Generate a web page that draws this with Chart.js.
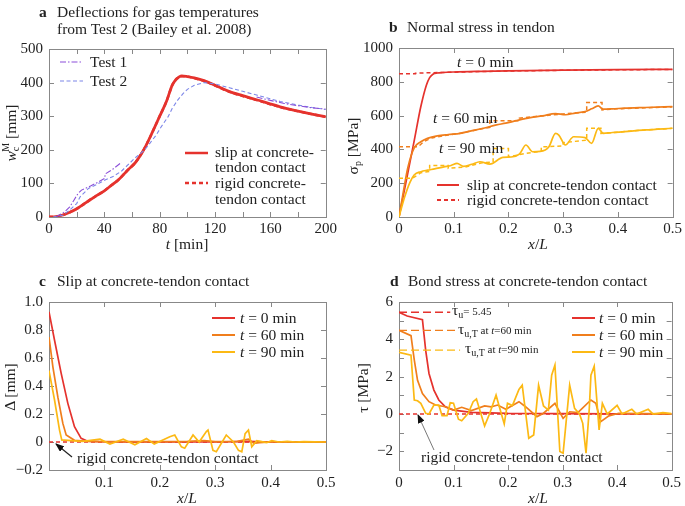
<!DOCTYPE html>
<html>
<head>
<meta charset="utf-8">
<script src="https://cdn.jsdelivr.net/npm/chart.js@4.4.1/dist/chart.umd.min.js"></script>
<style>
  html, body { margin: 0; padding: 0; background: #fff; overflow: hidden; }
  #wrap { position: relative; width: 685px; height: 506px; }
  canvas { position: absolute; }
  svg { position: absolute; left: 0; top: 0; }
  svg text { font-family: 'Liberation Serif', 'Times New Roman', serif; font-size: 15.5px; fill: #222; }
</style>
</head>
<body>
<div id="wrap">
  <canvas id="chartA" width="340" height="250" style="left:0;top:0"></canvas>
  <canvas id="chartB" width="345" height="250" style="left:340px;top:0"></canvas>
  <canvas id="chartC" width="340" height="256" style="left:0;top:250px"></canvas>
  <canvas id="chartD" width="345" height="256" style="left:340px;top:250px"></canvas>

  <svg width="685" height="506">
    <defs>
      <marker id="head" markerWidth="9" markerHeight="7" refX="8" refY="3.5" orient="auto" markerUnits="userSpaceOnUse">
        <path d="M0,0 L9,3.5 L0,7 z" fill="#111"/>
      </marker>
    </defs>

    <!-- panel a -->
    <text x="39" y="17" font-weight="bold">a</text>
    <text x="57" y="17">Deflections for gas temperatures</text>
    <text x="57" y="34">from Test 2 (Bailey et al. 2008)</text>
    <line x1="60" y1="62" x2="83" y2="62" stroke="#8b4fd9" stroke-width="1.2" stroke-dasharray="6,2,1.5,2"/>
    <text x="90" y="67">Test 1</text>
    <line x1="60" y1="81" x2="83" y2="81" stroke="#7c86e8" stroke-width="1.2" stroke-dasharray="4,2.5"/>
    <text x="90" y="86">Test 2</text>
    <line x1="185" y1="153" x2="208" y2="153" stroke="#e5322d" stroke-width="2.5"/>
    <text x="215" y="157">slip at concrete-</text>
    <text x="215" y="172">tendon contact</text>
    <line x1="185" y1="183" x2="208" y2="183" stroke="#e5322d" stroke-width="2.5" stroke-dasharray="4,3"/>
    <text x="215" y="188">rigid concrete-</text>
    <text x="215" y="204">tendon contact</text>
    <text x="187" y="249" text-anchor="middle"><tspan font-style="italic">t</tspan> [min]</text>
    <text transform="translate(16,133) rotate(-90)" text-anchor="middle"><tspan font-style="italic">w</tspan><tspan font-size="10" dy="3">c</tspan><tspan font-size="10" dx="-5" dy="-10">M</tspan><tspan dy="7"> [mm]</tspan></text>

    <!-- panel b -->
    <text x="389" y="32" font-weight="bold">b</text>
    <text x="407" y="32">Normal stress in tendon</text>
    <text x="457" y="67"><tspan font-style="italic">t</tspan> = 0 min</text>
    <text x="433" y="123"><tspan font-style="italic">t</tspan> = 60 min</text>
    <text x="439" y="153"><tspan font-style="italic">t</tspan> = 90 min</text>
    <line x1="437" y1="185" x2="459" y2="185" stroke="#e5322d" stroke-width="2"/>
    <text x="467" y="190">slip at concrete-tendon contact</text>
    <line x1="437" y1="200" x2="459" y2="200" stroke="#e5322d" stroke-width="2" stroke-dasharray="4,3"/>
    <text x="467" y="205">rigid concrete-tendon contact</text>
    <text x="538" y="249" text-anchor="middle"><tspan font-style="italic">x</tspan>/<tspan font-style="italic">L</tspan></text>
    <text transform="translate(358,146) rotate(-90)" text-anchor="middle">σ<tspan font-size="10" dy="3">p</tspan><tspan dy="-3"> [MPa]</tspan></text>

    <!-- panel c -->
    <text x="39" y="286" font-weight="bold">c</text>
    <text x="57" y="286">Slip at concrete-tendon contact</text>
    <line x1="212" y1="318" x2="235" y2="318" stroke="#e5322d" stroke-width="2"/>
    <text x="240" y="323"><tspan font-style="italic">t</tspan> = 0 min</text>
    <line x1="212" y1="335" x2="235" y2="335" stroke="#f07e1c" stroke-width="2"/>
    <text x="240" y="340"><tspan font-style="italic">t</tspan> = 60 min</text>
    <line x1="212" y1="352" x2="235" y2="352" stroke="#fcb914" stroke-width="2"/>
    <text x="240" y="357"><tspan font-style="italic">t</tspan> = 90 min</text>
    <text x="77" y="463">rigid concrete-tendon contact</text>
    <line x1="72" y1="457" x2="56" y2="444" stroke="#222" stroke-width="1.2" marker-end="url(#head)"/>
    <text x="187" y="503" text-anchor="middle"><tspan font-style="italic">x</tspan>/<tspan font-style="italic">L</tspan></text>
    <text transform="translate(15,387) rotate(-90)" text-anchor="middle">Δ [mm]</text>

    <!-- panel d -->
    <text x="390" y="286" font-weight="bold">d</text>
    <text x="408" y="286">Bond stress at concrete-tendon contact</text>
    <line x1="572" y1="318" x2="595" y2="318" stroke="#e5322d" stroke-width="2"/>
    <text x="599" y="323"><tspan font-style="italic">t</tspan> = 0 min</text>
    <line x1="572" y1="335" x2="595" y2="335" stroke="#f07e1c" stroke-width="2"/>
    <text x="599" y="340"><tspan font-style="italic">t</tspan> = 60 min</text>
    <line x1="572" y1="352" x2="595" y2="352" stroke="#fcb914" stroke-width="2"/>
    <text x="599" y="357"><tspan font-style="italic">t</tspan> = 90 min</text>
    <text x="452" y="315">τ<tspan font-size="10" dy="3">u</tspan><tspan font-size="11" dy="-3">= 5.45</tspan></text>
    <text x="458" y="334">τ<tspan font-size="10" dy="3">u,T</tspan><tspan font-size="11" dy="-3"> at </tspan><tspan font-size="11" font-style="italic">t</tspan><tspan font-size="11">=60 min</tspan></text>
    <text x="465" y="353">τ<tspan font-size="10" dy="3">u,T</tspan><tspan font-size="11" dy="-3"> at </tspan><tspan font-size="11" font-style="italic">t</tspan><tspan font-size="11">=90 min</tspan></text>
    <text x="421" y="462">rigid concrete-tendon contact</text>
    <line x1="434" y1="450" x2="418" y2="415" stroke="#555" stroke-width="0.8" marker-end="url(#head)"/>
    <text x="538" y="503" text-anchor="middle"><tspan font-style="italic">x</tspan>/<tspan font-style="italic">L</tspan></text>
    <text transform="translate(368,388) rotate(-90)" text-anchor="middle">τ [MPa]</text>
  </svg>
</div>

<script>
// ---- colours
var RED = '#e5322d', ORANGE = '#f07e1c', YELLOW = '#fcb914';
var PURPLE = '#8b4fd9', BLUE = '#7c86e8';

// ---- panel a: deflection w (mm) vs time t (min)
var slipT  = [0, 5, 10, 15, 21, 25, 30, 35, 40, 45, 50, 57, 62, 67, 70, 75, 80, 85, 89, 92, 96, 100, 105, 112, 120, 130, 140, 150, 167, 180, 190, 200];
var slipW  = [0, 1, 6, 14, 27, 38, 52, 65, 78, 94, 110, 140, 160, 190, 212, 255, 300, 345, 392, 410, 420, 418, 414, 406, 392, 374, 361, 349, 328, 315, 306, 298];
var rigidT = [0, 5, 10, 15, 21, 25, 30, 35, 40, 45, 50, 57, 62, 67, 70, 75, 80, 85, 89, 92, 96, 100, 105, 112, 120, 130, 140, 150, 167, 180, 190, 200];
var rigidW = [0, 1, 6, 14, 27, 38, 52, 65, 78, 94, 110, 140, 160, 190, 212, 255, 300, 345, 392, 411, 419, 418, 413, 405, 391, 373, 360, 348, 327, 315, 306, 298];
var test1T1 = [5, 11.5, 15, 18, 21, 23.5, 30, 36, 40.3, 40.6, 46, 52.5];
var test1W1 = [0, 16, 30, 50, 70, 80, 92, 105, 115, 128, 142, 163];
var test1T2 = [150, 160, 170, 180, 190, 200];
var test1W2 = [357, 347, 338, 331, 325, 321];
var test2T = [3, 10, 15, 20, 22.5, 28.5, 35, 40.5, 47, 52.5, 57, 62, 69, 73, 77.5, 81, 86, 89, 93, 97, 100, 105, 112, 120, 131, 140, 150, 167, 180, 190, 200];
var test2W = [0, 5, 21, 40, 60, 85, 98, 110, 122, 137, 155, 175, 199, 220, 244, 268, 298, 323, 348, 368, 380, 392, 400, 396, 384, 374, 363, 344, 333, 326, 320];

// ---- panel b: normal stress sigma_p (MPa) vs x/L
var b0SlipX  = [0, 0.016, 0.028, 0.04, 0.05, 0.056, 0.062, 0.07, 0.08, 0.1, 0.15, 0.2, 0.3, 0.4, 0.5];
var b0SlipY  = [0, 258, 455, 655, 780, 825, 845, 852, 855, 858, 862, 865, 869, 872, 874];
var b0RigidX = [0, 0.03, 0.03, 0.06, 0.1, 0.2, 0.3, 0.4, 0.5];
var b0RigidY = [848, 848, 851, 854, 857, 864, 868, 871, 873];
var b60SlipX = [0, 0.008, 0.016, 0.028, 0.04, 0.052, 0.07, 0.09, 0.112, 0.13, 0.154, 0.178, 0.195, 0.214, 0.24, 0.262, 0.286, 0.304, 0.322, 0.34, 0.352, 0.364, 0.373, 0.39, 0.412, 0.45, 0.5];
var b60SlipY = [0, 150, 290, 410, 445, 465, 480, 488, 495, 508, 525, 545, 555, 570, 588, 598, 612, 605, 615, 624, 640, 657, 638, 640, 644, 648, 653];
var b60RigidX = [0, 0.035, 0.045, 0.06, 0.09, 0.12, 0.14, 0.166, 0.166, 0.22, 0.22, 0.25, 0.3, 0.343, 0.343, 0.371, 0.371, 0.4, 0.45, 0.5];
var b60RigidY = [416, 416, 445, 468, 485, 500, 515, 530, 570, 570, 585, 595, 610, 620, 677, 677, 634, 640, 646, 652];
var b90SlipX = [0, 0.01, 0.02, 0.028, 0.04, 0.052, 0.065, 0.082, 0.095, 0.106, 0.118, 0.133, 0.148, 0.166, 0.19, 0.205, 0.22, 0.232, 0.244, 0.258, 0.274, 0.286, 0.292, 0.304, 0.319, 0.34, 0.352, 0.364, 0.373, 0.39, 0.412, 0.45, 0.5];
var b90SlipY = [0, 115, 205, 250, 268, 277, 285, 297, 305, 317, 300, 312, 327, 313, 353, 355, 372, 426, 386, 388, 416, 495, 485, 426, 475, 470, 436, 525, 495, 500, 505, 515, 525];
var b90RigidX = [0, 0.025, 0.04, 0.056, 0.056, 0.09, 0.09, 0.12, 0.15, 0.172, 0.172, 0.2, 0.2, 0.23, 0.26, 0.26, 0.3, 0.3, 0.343, 0.343, 0.369, 0.369, 0.4, 0.45, 0.5];
var b90RigidY = [230, 230, 262, 270, 305, 305, 288, 295, 320, 325, 405, 405, 356, 375, 390, 415, 420, 440, 455, 525, 525, 495, 502, 515, 525];

// ---- panel c: slip (mm) vs x/L
var c0X  = [0, 0.01, 0.022, 0.034, 0.046, 0.058, 0.07, 0.09, 0.12, 0.2, 0.3, 0.36, 0.4, 0.5];
var c0Y  = [0.93, 0.727, 0.49, 0.276, 0.109, 0.026, 0.006, 0.002, 0, 0, 0, 0.005, 0, 0];
var c60X = [0, 0.007, 0.016, 0.025, 0.031, 0.046, 0.07, 0.1, 0.15, 0.2, 0.25, 0.28, 0.3, 0.34, 0.36, 0.37, 0.38, 0.4, 0.5];
var c60Y = [0.75, 0.537, 0.32, 0.133, 0.05, 0.012, 0.005, 0.002, 0.003, 0.002, 0.004, 0.01, 0.002, 0.005, 0.02, -0.01, -0.005, 0, 0];
var c90X = [0, 0.01, 0.019, 0.023, 0.04, 0.06, 0.075, 0.092, 0.11, 0.134, 0.155, 0.176, 0.19, 0.218, 0.227, 0.239, 0.245, 0.26, 0.271, 0.284, 0.287, 0.296, 0.302, 0.32, 0.333, 0.342, 0.348, 0.354, 0.36, 0.366, 0.375, 0.393, 0.402, 0.415, 0.43, 0.445, 0.46, 0.5];
var c90Y = [0.51, 0.3, 0.085, 0.015, 0.01, 0.005, 0.012, 0.02, -0.015, 0.02, -0.02, 0.025, -0.015, 0.038, 0.05, -0.035, -0.045, 0.05, 0, 0.075, 0.085, -0.06, -0.07, 0.05, 0, -0.06, -0.07, 0.06, 0.085, -0.035, 0.01, -0.005, 0.01, 0, 0.005, 0, 0.003, 0];
var rigidZeroX = [0, 0.5];
var rigidZeroY = [0, 0];

// ---- panel d: bond stress tau (MPa) vs x/L
var d0X  = [0, 0.015, 0.043, 0.049, 0.055, 0.064, 0.073, 0.085, 0.1, 0.133, 0.2, 0.3, 0.4, 0.5];
var d0Y  = [5.45, 5.25, 5.05, 3.4, 2.17, 1.28, 0.75, 0.39, 0.21, 0.09, 0.03, 0.02, 0.01, 0];
var d60X = [0, 0.022, 0.028, 0.034, 0.043, 0.055, 0.067, 0.085, 0.1, 0.115, 0.133, 0.157, 0.169, 0.181, 0.196, 0.22, 0.232, 0.253, 0.265, 0.286, 0.301, 0.313, 0.328, 0.352, 0.361, 0.37, 0.385, 0.403, 0.45, 0.5];
var d60Y = [4.48, 4.2, 2.9, 1.8, 1.1, 0.66, 0.48, 0.39, 0.21, 0.36, 0.18, 0.43, 0.38, 0.48, 0.25, 0.66, 0.39, -0.14, 0.04, 0.57, -0.23, 0.12, 0.08, 0.75, 0.57, -0.41, -0.1, 0.04, 0.02, 0.01];
var d90X = [0, 0.022, 0.028, 0.034, 0.04, 0.049, 0.055, 0.064, 0.073, 0.079, 0.088, 0.094, 0.1, 0.109, 0.115, 0.127, 0.136, 0.142, 0.157, 0.166, 0.178, 0.193, 0.199, 0.208, 0.22, 0.226, 0.238, 0.247, 0.256, 0.265, 0.274, 0.28, 0.286, 0.295, 0.301, 0.313, 0.322, 0.331, 0.337, 0.343, 0.349, 0.352, 0.358, 0.367, 0.373, 0.382, 0.4, 0.409, 0.427, 0.436, 0.457, 0.466, 0.484, 0.5];
var d90Y = [3.3, 3.15, 0.75, 0.71, 0.57, 0.04, 0, 0.48, 0.48, -0.09, -0.09, 0.6, 0.58, -0.28, -0.36, 0.04, 0.66, 0.8, -0.64, 0, 1.01, -0.53, 0.57, 0.45, 1.32, 1.55, -1.3, -1.12, 1.55, 0.43, 0.21, 2.08, 2.62, -2.01, -2.1, 1.55, 0.3, 0, -0.5, -2.1, 0.3, 2.08, 2.56, -0.85, 0.57, 0, 0.46, 0, 0.25, 0, 0.25, 0, 0.07, 0.02];
var tauLevels = [5.45, 4.48, 3.42];
var tauEnds   = [0.094, 0.103, 0.112];

function xy(xs, ys) {
  return xs.map(function (x, i) { return { x: x, y: ys[i] }; });
}

function line(xs, ys, color, width, dash, smooth) {
  return {
    data: xy(xs, ys),
    borderColor: color,
    borderWidth: width,
    borderDash: dash || [],
    pointRadius: 0,
    fill: false,
    tension: 0,
    cubicInterpolationMode: smooth ? 'monotone' : 'default'
  };
}

// frame around the plot area with small ticks pointing inwards on all four sides
var frameTicks = {
  id: 'frameTicks',
  beforeDatasetsDraw: function (chart) {
    var ctx = chart.ctx, a = chart.chartArea, sx = chart.scales.x, sy = chart.scales.y;
    var len = 5;
    ctx.save();
    ctx.strokeStyle = '#888';
    ctx.lineWidth = 1;
    ctx.strokeRect(Math.round(a.left) + 0.5, Math.round(a.top) + 0.5, Math.round(a.width), Math.round(a.height));
    ctx.beginPath();
    sx.ticks.forEach(function (t) {
      var px = Math.round(sx.getPixelForValue(t.value)) + 0.5;
      ctx.moveTo(px, a.bottom); ctx.lineTo(px, a.bottom - len);
      ctx.moveTo(px, a.top); ctx.lineTo(px, a.top + len);
    });
    sy.ticks.forEach(function (t) {
      var py = Math.round(sy.getPixelForValue(t.value)) + 0.5;
      ctx.moveTo(a.left, py); ctx.lineTo(a.left + len, py);
      ctx.moveTo(a.right, py); ctx.lineTo(a.right - len, py);
    });
    ctx.stroke();
    ctx.restore();
  }
};

var tickFont = { family: "'Liberation Serif', 'Times New Roman', serif", size: 15 };

function minus(s) { return s.charAt(0) === '-' ? '\u2212' + s.slice(1) : s; }

function makeChart(id, o) {
  return new Chart(document.getElementById(id), {
    type: 'line',
    data: { datasets: o.datasets },
    options: {
      responsive: false,
      animation: false,
      layout: { padding: { left: 0, top: o.top, right: o.right, bottom: 0 } },
      plugins: { legend: { display: false }, tooltip: { enabled: false } },
      scales: {
        x: {
          type: 'linear', min: o.xMin, max: o.xMax,
          grid: { display: false, drawTicks: false }, border: { display: false },
          ticks: { stepSize: o.xStep, autoSkip: false, maxRotation: 0, padding: o.xPad, font: tickFont, color: '#222', callback: o.xLabel },
          afterFit: function (s) { s.height = o.xH; }
        },
        y: {
          type: 'linear', min: o.yMin, max: o.yMax,
          grid: { display: false, drawTicks: false }, border: { display: false },
          ticks: { stepSize: o.yStep, autoSkip: false, padding: 6, font: tickFont, color: '#222', callback: o.yLabel },
          afterFit: function (s) { s.width = o.yW; }
        }
      }
    },
    plugins: [frameTicks]
  });
}

// panel a
makeChart('chartA', {
  top: 49, right: 14, yW: 49, xH: 33, xPad: 3,
  xMin: 0, xMax: 200, xStep: 20, yMin: 0, yMax: 500, yStep: 100,
  xLabel: function (v) { return v % 40 === 0 ? String(v) : ''; },
  yLabel: function (v) { return String(v); },
  datasets: [
    line(test1T1, test1W1, PURPLE, 1.1, [6, 2, 1.5, 2]),
    line(test1T2, test1W2, PURPLE, 1.1, [6, 2, 1.5, 2]),
    line(test2T, test2W, BLUE, 1.1, [4, 2.5]),
    line(slipT, slipW, RED, 2.8, null, true),
    line(rigidT, rigidW, RED, 2.4, [4, 3], true)
  ]
});

// panel b
makeChart('chartB', {
  top: 48, right: 8, yW: 59, xH: 33, xPad: 3,
  xMin: 0, xMax: 0.5, xStep: 0.1, yMin: 0, yMax: 1000, yStep: 200,
  xLabel: function (v) { return v === 0 ? '0' : v.toFixed(1); },
  yLabel: function (v) { return String(v); },
  datasets: [
    line(b90SlipX, b90SlipY, YELLOW, 1.7, null, true),
    line(b90RigidX, b90RigidY, YELLOW, 1.5, [4, 3]),
    line(b60SlipX, b60SlipY, ORANGE, 1.7, null, true),
    line(b60RigidX, b60RigidY, ORANGE, 1.5, [4, 3]),
    line(b0SlipX, b0SlipY, RED, 1.7, null, true),
    line(b0RigidX, b0RigidY, RED, 1.5, [4, 3])
  ]
});

// panel c
makeChart('chartC', {
  top: 52, right: 14, yW: 49, xH: 36, xPad: 4,
  xMin: 0, xMax: 0.5, xStep: 0.1, yMin: -0.2, yMax: 1.0, yStep: 0.2,
  xLabel: function (v) { return v === 0 ? '' : v.toFixed(1); },
  yLabel: function (v) { return Math.abs(v) < 1e-9 ? '0' : minus(v.toFixed(1)); },
  datasets: [
    line(c90X, c90Y, YELLOW, 1.7),
    line(c60X, c60Y, ORANGE, 1.7),
    line(c0X, c0Y, RED, 1.7),
    line(rigidZeroX, rigidZeroY, RED, 1.5, [4, 3])
  ]
});

// panel d
var tauColors = [RED, ORANGE, YELLOW];
var tauSets = tauLevels.map(function (lv, i) {
  return line([0, tauEnds[i]], [lv, lv], tauColors[i], 1.3, [8, 4]);
});
makeChart('chartD', {
  top: 52, right: 8, yW: 59, xH: 36, xPad: 4,
  xMin: 0, xMax: 0.5, xStep: 0.1, yMin: -3, yMax: 6, yStep: 1,
  xLabel: function (v) { return v === 0 ? '0' : v.toFixed(1); },
  yLabel: function (v) { return (v % 2 === 0 && v >= -2) ? minus(String(v)) : ''; },
  datasets: tauSets.concat([
    line(d90X, d90Y, YELLOW, 1.7),
    line(d60X, d60Y, ORANGE, 1.7),
    line(d0X, d0Y, RED, 1.7),
    line(rigidZeroX, rigidZeroY, RED, 1.5, [4, 3])
  ])
});
</script>
</body>
</html>
